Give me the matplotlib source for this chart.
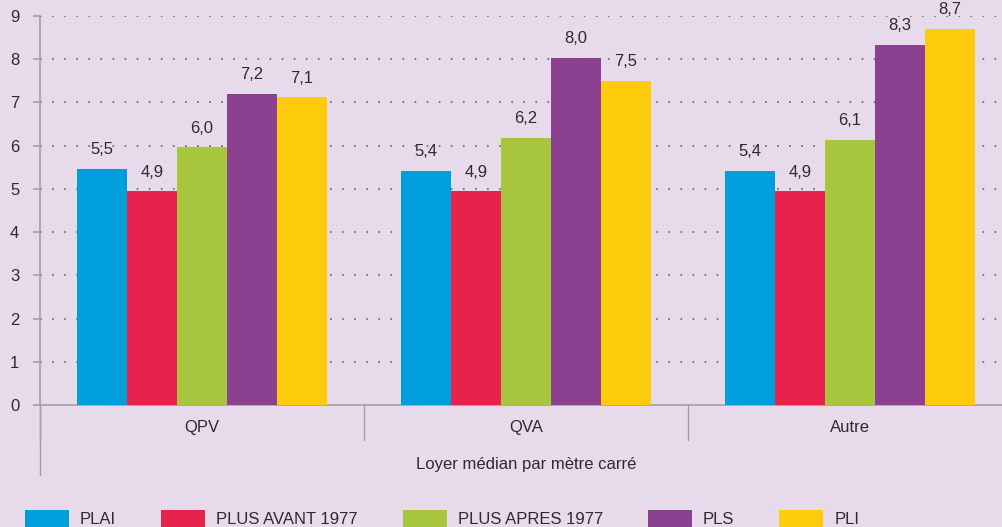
import matplotlib
matplotlib.use("Agg")
import matplotlib.pyplot as plt
import numpy as np

# ============================================================================
# Data
# ============================================================================

CATEGORIES = ["QPV", "QVA", "Autre"]
SERIES = ["PLAI", "PLUS AVANT 1977", "PLUS APRES 1977", "PLS", "PLI"]

PLAI = [5.46, 5.42, 5.42]
PLUS_AVANT_1977 = [4.94, 4.94, 4.94]
PLUS_APRES_1977 = [5.96, 6.18, 6.13]
PLS = [7.20, 8.03, 8.33]
PLI = [7.12, 7.50, 8.70]

Y_TICKS = list(range(0, 10))
X_TITLE = "Loyer médian par mètre carré"

COLORS = ["#009EDB", "#E7224D", "#A7C53D", "#8B418F", "#FECB0D"]
BG = "#E7DAEB"
TEXT = "#2E2A30"
AXIS_GREY = "#A59CA9"

plt.rcParams["font.family"] = ["Liberation Sans", "DejaVu Sans"]
plt.rcParams["font.size"] = 12


def fmt(v):
    return f"{v:.1f}".replace(".", ",")


# ============================================================================
# Plot
# ============================================================================

fig = plt.figure(figsize=(10.03, 5.27), dpi=100, facecolor=BG)
ax = fig.add_axes([40 / 1003, 1 - 405 / 527, 972 / 1003, 389 / 527])
ax.set_facecolor(BG)

values = [PLAI, PLUS_AVANT_1977, PLUS_APRES_1977, PLS, PLI]
x = np.arange(len(CATEGORIES))
width = 50 / 324

for i, (name, vals) in enumerate(zip(SERIES, values)):
    pos = x + (i - 2) * width
    bars = ax.bar(pos, vals, width=width, color=COLORS[i], linewidth=0, label=name, zorder=3)
    for b, v in zip(bars, vals):
        ax.annotate(fmt(v), (b.get_x() + b.get_width() / 2, v),
                    xytext=(0, 10.5), textcoords="offset points",
                    ha="center", va="baseline", color=TEXT, fontsize=12)

ax.set_xlim(-0.5, 2.5)
ax.set_ylim(0, 9)
ax.set_yticks(Y_TICKS)
ax.set_xticks([])

for y in Y_TICKS[1:]:
    ax.axhline(y, color="#7E7883", linewidth=1.5, linestyle=(0, (0.8, 5.0)), zorder=1)

for side in ["top", "right"]:
    ax.spines[side].set_visible(False)
ax.spines["left"].set_color(AXIS_GREY)
ax.spines["bottom"].set_color(AXIS_GREY)
ax.spines["left"].set_linewidth(1.2)
ax.spines["bottom"].set_linewidth(1.2)
ax.tick_params(axis="y", colors=AXIS_GREY, length=5, width=1.2, pad=10,
               labelcolor=TEXT, labelsize=12)

# multi-level category axis
tr = ax.get_xaxis_transform()
for sep in [-0.5, 0.5, 1.5, 2.5]:
    ax.plot([sep, sep], [0, -0.09], transform=tr, color=AXIS_GREY,
            linewidth=1.0, clip_on=False)
ax.plot([-0.5, -0.5], [0, -0.18], transform=tr, color=AXIS_GREY,
        linewidth=1.0, clip_on=False)
for xi, cat in zip(x, CATEGORIES):
    ax.text(xi, -0.059, cat, transform=tr, ha="center", va="center",
            color=TEXT, fontsize=12)
ax.text(0.5, -0.154, X_TITLE, transform=ax.transAxes, ha="center", va="center",
        color=TEXT, fontsize=12)

fig.legend(loc="upper left", bbox_to_anchor=(25 / 1003, 1 - 510 / 527),
           ncol=5, frameon=False, borderpad=0, borderaxespad=0,
           handlelength=2.64, handleheight=1.25, handletextpad=0.66,
           columnspacing=2.7, labelcolor=TEXT, fontsize=12)

fig.savefig("out.png", dpi=100, facecolor=BG)
